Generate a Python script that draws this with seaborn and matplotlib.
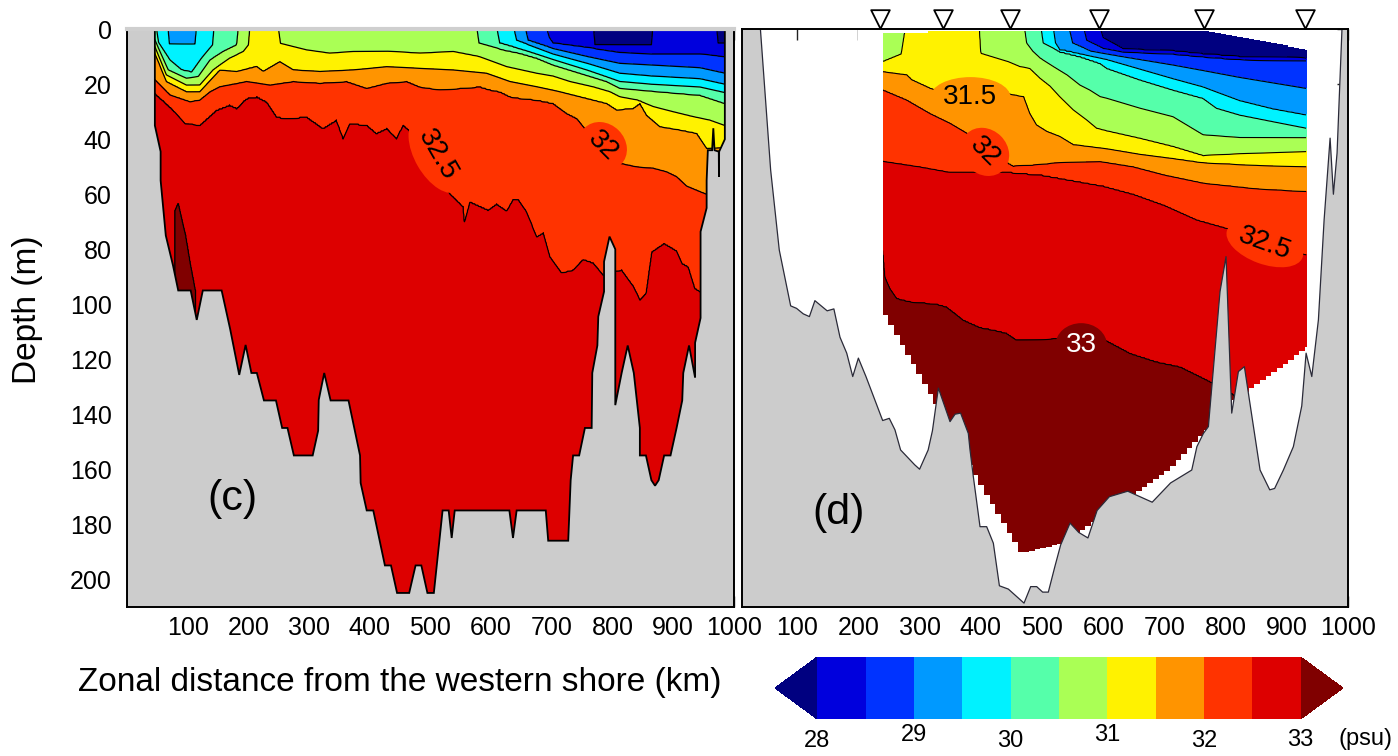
import numpy as np
import matplotlib
matplotlib.use("Agg")
import matplotlib.pyplot as plt
from matplotlib import transforms
from matplotlib.colors import ListedColormap, BoundaryNorm
import seaborn as sns

sns.set_theme(style="ticks")
plt.rcParams["font.family"] = ["Liberation Sans", "DejaVu Sans"]
plt.rcParams["text.color"] = "black"
plt.rcParams["xtick.color"] = "black"
plt.rcParams["ytick.color"] = "black"
plt.rcParams["axes.labelcolor"] = "black"

# salinity levels (psu) and the colours of the bands between them
levels = [28.0, 28.5, 29.0, 29.5, 30.0, 30.5, 31.0, 31.5, 32.0, 32.5, 33.0]
band_colors = ["#0000dd", "#0033ff", "#0099ff", "#00f2ff", "#55ffaa",
               "#aaff55", "#fff200", "#ff9400", "#ff3300", "#dd0000"]
under_color = "#000080"
over_color = "#800000"
cbar_ticks = [28, 29, 30, 31, 32, 33]
x_ticks = [100, 200, 300, 400, 500, 600, 700, 800, 900, 1000]
y_ticks = [0, 20, 40, 60, 80, 100, 120, 140, 160, 180, 200]

# ---- panel (c): isohaline depths, (km, m); 0 = above the surface, 999 = below the bottom
c28 = [(769, 0), (771, 5.7), (864, 5.7), (866, 0), (972, 0), (974, 5), (985, 5)]
c28_5 = [(692, 0), (696, 3), (702, 5), (771, 7), (812, 8.4), (864, 9), (944, 9), (985, 10)]
c29 = [(657, 0), (661, 4), (702, 7), (760, 10), (812, 12.4), (864, 13), (944, 14), (985, 16)]
c29_5 = [(68, 0), (70, 5.3), (112, 5.3), (114, 0), (638, 0), (642, 4), (702, 9), (760, 12.5),
         (812, 16), (864, 17), (944, 18), (985, 20)]
c30 = [(49, 0), (52, 4.8), (71, 11.2), (90, 14.8), (106.6, 15.6), (123, 10.5), (141, 5.7), (143, 0),
       (610, 0), (614, 5), (660, 8), (702, 11), (760, 15), (812, 19), (864, 20), (944, 21), (985, 23)]
c30_5 = [(46, 3.9), (68, 14.8), (98, 17.8), (117.5, 17.2), (136.7, 11.2), (158.6, 8.1), (180.7, 5.7),
         (183, 0), (577, 0), (580, 5), (620, 7.5), (647, 8.7), (675, 10.5), (702, 13), (746, 16),
         (790, 19), (812, 21.5), (864, 22.5), (944, 24), (985, 27)]
c31 = [(46, 6.3), (65, 16.6), (98, 20.3), (120, 20.3), (142, 14.8), (169, 10.5), (191.6, 8.1),
       (200, 5.7), (202, 0), (250, 0), (253, 5.1), (296, 7.5), (334, 8.7), (373, 8.1), (430, 8),
       (482.7, 8.7), (537.6, 8.1), (581.5, 10), (625.6, 13.6), (675, 16), (702, 17), (730, 19),
       (768, 20.9), (796, 22.7), (812, 24.5), (839.7, 25.7), (867, 28.1), (900, 30), (933, 31.8),
       (960, 33), (985, 35)]
c31_5 = [(46, 8.7), (65, 19), (98, 22.7), (120, 22.7), (153, 14.8), (180.7, 15.4), (213.7, 13.6),
         (224.6, 15.4), (252, 11.8), (274, 14.8), (318, 15.4), (372.8, 14.8), (427.8, 13.6),
         (482.7, 14.2), (537.6, 14.8), (592.6, 16), (631, 19), (675, 20.9), (713, 22.7),
         (757, 25.1), (790, 26.9), (806.8, 29.3), (834, 28.7), (845, 26.9), (856, 31.2),
         (878, 35.4), (911, 36.6), (938.4, 37.8), (955, 43.3), (985, 43)]
c32 = [(46, 18.4), (71, 23.9), (104, 26.3), (120, 25.7), (137, 22.7), (153, 20.9), (197, 19),
       (235.6, 20.3), (274, 19), (318, 19.6), (362, 19), (395, 21.5), (428, 19.6), (461, 19),
       (482.7, 21), (515.6, 22), (548.6, 21.5), (581.5, 20.9), (598, 22), (614.5, 22.7),
       (631, 24.5), (647.4, 25.1), (675, 25.7), (702, 26.9), (724, 30.5), (741, 32.4),
       (752, 35.4), (782, 43.3), (812, 48.7), (839.7, 50), (867, 50.5), (889, 51.8),
       (905.6, 53.6), (922, 57), (955, 60), (985, 60)]
c32_5 = [(46, 23.3), (60, 26), (76, 29.3), (95.6, 34.2), (120, 34.8), (148, 29.3), (169, 27.5),
         (181, 28.7), (197, 25.1), (214, 24.5), (230, 26.3), (246.6, 31.8), (263, 32.4),
         (296, 31.8), (323, 36), (345, 33), (356, 39.6), (367, 34.2), (395, 34.8), (411, 37.8),
         (428, 36), (444, 39.6), (455, 34.8), (474, 38.4), (500, 48), (532, 59.7), (554, 64.5),
         (556, 70), (565, 62.7), (595, 65.7), (609, 63.5), (625.6, 66), (636.5, 61.7), (645, 62),
         (658.5, 66.3), (675, 75.4), (686, 74), (697, 82.7), (716, 88.5), (735, 87.5),
         (751.6, 83.6), (768, 84.9), (784.7, 89.3), (800, 88), (815, 87.5), (835, 93.6),
         (845, 98.4), (855, 96), (864.4, 80.9), (885, 77.8), (905.6, 80.5), (914.8, 85.1),
         (924.7, 86.3), (935.7, 94.2), (945, 95.4), (955, 80), (985, 80)]
c33 = [(40, 999), (77, 999), (79, 66), (84.5, 63), (97, 75), (104.5, 85), (113, 95), (118, 999),
       (1000, 999)]

# panel (c): sea floor, (km, m)
c_bottom = [(46, 0), (46, 35), (55.5, 44.5), (55.5, 55), (64, 75), (76, 86), (84.5, 95), (105, 95),
            (115, 105.7), (125, 95), (156, 95), (170, 109), (185, 125.7), (195.5, 114.8),
            (205, 125), (214, 125), (225.7, 135), (245.5, 135), (255.7, 145), (264.5, 145),
            (275, 155), (306, 155), (315, 146), (316, 134.8), (325, 125), (335.5, 135), (365, 135),
            (384, 155), (385, 165), (395, 175), (405.8, 175), (425, 195), (435, 195), (445, 205),
            (465, 205), (475.5, 195), (485, 195), (495, 205), (505.6, 205), (520, 175), (530, 175),
            (535, 185), (540, 175), (630, 175), (636, 185), (642, 175), (690, 175), (694, 186),
            (727, 186), (731, 164), (735, 155), (745, 155), (754.5, 145), (765.6, 145),
            (766.6, 125), (775, 115), (776.5, 104.5), (786, 95.4), (786, 84.5), (795, 75.4),
            (804.5, 80), (804.5, 136.7), (815, 125), (825, 115), (835, 125), (845, 145),
            (845, 155), (855, 155), (864, 164), (870, 166), (876, 164), (885, 155), (895.5, 155),
            (905.5, 145), (914.8, 135), (916.5, 125), (926, 115), (936, 126.7), (936, 114),
            (945, 105), (945, 73.6), (955, 65), (955, 55), (957, 44), (964, 44), (966, 36),
            (968, 44), (975, 44.5), (975.3, 53.6), (975.6, 44.5), (985, 40), (985, 0)]

# ---- panel (d): isohaline depths, (km, m)
d28 = [(596, 0), (600, 3), (633, 7.2), (714, 7.9), (763, 9), (823, 10), (931, 10.5)]
d28_5 = [(569, 0), (573, 4), (600, 7), (633, 8.3), (714, 9), (763, 10), (823, 11), (931, 11.5)]
d29 = [(545, 0), (550, 5), (580, 8), (633, 10), (714, 13), (763, 15), (823, 17.5), (877, 19.5),
       (931, 21.5)]
d29_5 = [(519, 0), (522, 5), (529, 7.5), (562, 9), (606, 11), (660, 14.5), (714, 18), (763, 21),
         (823, 26), (877, 29), (931, 31.2)]
d30 = [(499, 0), (502, 5), (529, 8.1), (562, 9.9), (595, 12.4), (606, 14.2), (660, 18.4),
       (714, 22.1), (763, 25.1), (785, 28.7), (823, 31.2), (877, 33.6), (931, 36)]
d30_5 = [(472, 0), (475, 5), (485, 8), (497, 10.5), (519, 13.6), (541, 16.6), (562, 20.3),
         (578, 22.1), (595, 24.5), (606, 25.1), (660, 28.7), (714, 31.8), (763, 38.4), (823, 39.4),
         (931, 39.4)]
d31 = [(240, 11.8), (270, 9), (276, 0), (398, 0), (400, 8.7), (426, 10.5), (445, 11.8), (464, 13.6),
       (480, 14.2), (497, 17.8), (513, 20.6), (529, 24.5), (551, 29.3), (573, 33), (589, 36),
       (606, 37), (660, 39.7), (714, 42.7), (763, 46), (823, 45.3), (877, 44.9), (931, 44.5)]
d31_5 = [(240, 15.4), (279, 16.6), (287, 18.4), (317, 21.5), (339, 23.3), (372, 23.5), (404, 23.3),
         (442, 23.3), (470, 24.5), (480, 30.6), (491, 34.8), (508, 37.2), (529, 39), (551, 42),
         (606, 43.5), (660, 45.5), (714, 47), (763, 48.5), (850, 49.5), (931, 50)]
d32 = [(240, 22), (279, 25.7), (317, 30.6), (350, 34.2), (377, 37.8), (407, 44), (453, 50),
       (497, 49.3), (529, 48.5), (595, 48.1), (649, 50), (700, 53), (765, 56), (850, 58), (931, 59)]
d32_5 = [(240, 48), (300, 50), (350, 52), (400, 52), (450, 52), (500, 53), (550, 55), (600, 57),
         (650, 60), (700, 64), (753, 69.3), (812, 73), (864, 77), (931, 82)]
d33 = [(240, 80.3), (243.5, 90), (251.6, 94.2), (262.6, 97.8), (284, 99), (328, 99.9), (344, 100.9),
       (371.5, 105.7), (398.7, 108.4), (426, 109.6), (442, 110.5), (458.7, 113), (497, 112.7),
       (529, 112.4), (595, 112), (644, 117.8), (687, 120.9), (725.5, 122.7), (753, 125.7),
       (780, 128.7), (810, 132.4), (850, 140), (931, 150)]

# panel (d): edges of the gridded section and the sea floor, (km, m)
d_top = [(239.7, 1.5), (305, 1.5), (306, 0.5), (763, 0.5), (931.4, 7.5)]
d_deepest = [(239.7, 104), (322, 136), (388, 162.7), (462, 190.6), (529, 187), (704, 160),
             (810, 135), (931.4, 115.4)]
d_bottom = [(40, 0), (56.7, 51.2), (70.8, 80.3), (89.4, 100.6), (99, 101.5), (110, 103.5),
            (120, 104.5), (129, 98.7), (149, 102.4), (160, 101.7), (170, 112), (181, 117.8),
            (190.8, 126.3), (200, 119.6), (212.4, 126.3), (239.7, 142.3), (250.5, 141.5),
            (259.8, 145.7), (269, 153), (292, 158.4), (300, 160), (314, 153), (321, 146),
            (330.7, 130.5), (349.7, 142.7), (358, 140), (367, 139.6), (379.6, 147), (382.4, 153),
            (387.8, 162.7), (398.7, 180.9), (409.6, 180.9), (420.5, 186.9), (430.4, 202.4),
            (445, 203.6), (470.6, 208.7), (481.5, 202.7), (491.3, 202.7), (501, 204.7),
            (510.3, 204.7), (521, 195.4), (530.5, 187.5), (545.8, 179.6), (560, 183), (575, 185),
            (590, 175), (610, 170), (640, 168), (680, 172), (710, 165), (744.6, 160.3),
            (753, 151.8), (763.6, 147), (771.8, 144.5), (790.8, 95.4), (800.6, 82.7),
            (809.9, 139.6), (820.8, 124.5), (830.6, 122.7), (838.8, 134.8), (856.2, 160.3),
            (872, 167.5), (880, 167), (894.3, 160.3), (910.6, 151.8), (924.3, 137), (931.4, 117.8),
            (940.7, 126.3), (951.5, 105.7), (960.8, 69.4), (970.6, 39.6), (976, 60), (982, 45),
            (990, 0)]
stations_km = [235, 338, 448, 593, 765, 930]

c_lines = [c28, c28_5, c29, c29_5, c30, c30_5, c31, c31_5, c32, c32_5, c33]
d_lines = [d28, d28_5, d29, d29_5, d30, d30_5, d31, d31_5, d32, d32_5, d33]


def xs(pts):
    return [p[0] for p in pts]


def zs(pts):
    return [p[1] for p in pts]


def salinity_grid(lines, xg, zg):
    # table for contourf: each column gets a profile through its isohaline depths
    D = np.array([np.interp(xg, xs(l), zs(l)) for l in lines])
    D = np.maximum.accumulate(D, axis=0)
    S = np.empty((len(zg), len(xg)))
    for j in range(len(xg)):
        d = D[:, j]
        up = np.nonzero(d <= 0)[0]
        if len(up):
            pz, ps = [-1.0], [levels[up[-1]]]
            k0 = up[-1] + 1
        else:
            pz, ps = [-1.0], [levels[0] - 0.5]
            k0 = 0
        for k in range(k0, len(levels)):
            if d[k] > 500:
                break
            pz.append(max(d[k], pz[-1] + 0.01))
            ps.append(levels[k])
        pz.append(600.0)
        ps.append(ps[-1] + 0.5)
        S[:, j] = np.interp(zg, pz, ps)
    return S


cmap = ListedColormap(band_colors)
cmap.set_under(under_color)
cmap.set_over(over_color)
norm = BoundaryNorm(levels, cmap.N)

zg = np.arange(0, 210.5, 0.5)
xg_c = np.arange(40, 1001, 1.0)
xg_d = np.linspace(239.7, 931.4, 692)
S_c = salinity_grid(c_lines, xg_c, zg)
S_d = salinity_grid(d_lines, xg_d, zg)

fig = plt.figure(figsize=(13.98, 7.56), dpi=100)
ax_c = fig.add_axes([0.0908, 0.1975, 0.4342, 0.7638])
ax_d = fig.add_axes([0.5308, 0.1975, 0.4335, 0.7638])

# ---- (c)
cf = ax_c.contourf(xg_c, zg, S_c, levels=levels, cmap=cmap, norm=norm, extend="both", zorder=1)
ax_c.contour(xg_c, zg, S_c, levels=levels, colors="black", linewidths=0.9, zorder=2)
bx = [0] + xs(c_bottom) + [1000, 1000, 0]
bz = [0] + zs(c_bottom) + [0, 215, 215]
ax_c.fill(bx, bz, facecolor="#cccccc", edgecolor="black", linewidth=1.3, zorder=4)

# ---- (d)
ax_d.contourf(xg_d, zg, S_d, levels=levels, cmap=cmap, norm=norm, extend="both", zorder=1)
ax_d.contour(xg_d, zg, S_d, levels=levels, colors="black", linewidths=0.8, zorder=2)
step_x = np.arange(239.7, 940, 9.2)
ax_d.fill_between(step_x, np.interp(step_x, xs(d_top), zs(d_top)), -3, step="post",
                  color="white", linewidth=0, zorder=3)
ax_d.fill_between(step_x, np.interp(step_x, xs(d_deepest), zs(d_deepest)), 215, step="post",
                  color="white", linewidth=0, zorder=3)
ax_d.fill_between([200, 239.9], [0, 0], [215, 215], color="white", linewidth=0, zorder=3)
gx = [0] + xs(d_bottom) + [1010, 1010, 0]
gz = [0] + zs(d_bottom) + [0, 215, 215]
ax_d.fill(gx, gz, facecolor="#cccccc", edgecolor="none", zorder=4)
sns.lineplot(x=xs(d_bottom), y=zs(d_bottom), sort=False, estimator=None, color="#2a2a38",
             linewidth=0.9, ax=ax_d, zorder=5)
sns.scatterplot(x=stations_km, y=[-3.9] * len(stations_km), marker="v", s=180, color="white",
                edgecolor="black", linewidth=1.3, clip_on=False, ax=ax_d, zorder=10, legend=False)

# contour labels
lab = dict(fontsize=20, ha="center", va="center", zorder=6)
ax_c.text(511, 45.7, "32.5", rotation=-60,
          bbox=dict(boxstyle="ellipse,pad=0.1", fc="#ff3300", ec="none"), **lab)
ax_c.text(784, 42.5, "32", rotation=-45,
          bbox=dict(boxstyle="ellipse,pad=0.1", fc="#ff3300", ec="none"), **lab)
ax_d.text(383, 24.8, "31.5", bbox=dict(boxstyle="ellipse,pad=0.05", fc="#ff9400", ec="none"), **lab)
ax_d.text(407, 44.6, "32", rotation=-45,
          bbox=dict(boxstyle="ellipse,pad=0.1", fc="#ff3300", ec="none"), **lab)
ax_d.text(864, 78, "32.5", rotation=-20,
          bbox=dict(boxstyle="ellipse,pad=0.05", fc="#ff3300", ec="none"), **lab)
ax_d.text(564, 115, "33", color="white",
          bbox=dict(boxstyle="ellipse,pad=0.1", fc=over_color, ec="none"), **lab)

ax_c.text(173, 171, "(c)", fontsize=31, ha="center", va="center", zorder=6)
ax_d.text(168, 176, "(d)", fontsize=31, ha="center", va="center", zorder=6)

for ax, x0 in [(ax_c, 0), (ax_d, 10)]:
    ax.set_xlim(x0, 1000)
    ax.set_ylim(210, 0)
    ax.set_xticks(x_ticks)
    ax.set_yticks(y_ticks)
    ax.set_xlabel("")
    ax.set_ylabel("")
    ax.tick_params(direction="in", length=8, width=1, top=True, right=True, labelsize=18,
                   color="#222222")
    ax.tick_params(axis="x", pad=7)
    ax.tick_params(axis="y", pad=11)
    for sp in ax.spines.values():
        sp.set_color("black")
        sp.set_linewidth(1.4)
        sp.set_zorder(8)
ax_d.tick_params(labelleft=False)
ax_c.spines["top"].set_color("#cfcfcf")
ax_c.spines["top"].set_linewidth(3)

fig.text(400 / 1398, 1 - 683 / 756, "Zonal distance from the western shore (km)",
         fontsize=24, ha="center", va="center")
fig.text(28 / 1398, 1 - 310 / 756, "Depth (m)", fontsize=24, rotation=90,
         ha="center", va="center")

# colour bar
cax = fig.add_axes([775 / 1398, 1 - 719 / 756, 568 / 1398, 62 / 756])
cb = fig.colorbar(cf, cax=cax, orientation="horizontal", extendfrac=0.0875)
cb.outline.set_visible(False)
cb.set_ticks([])
cax.minorticks_off()
cax.tick_params(which="both", length=0, labelbottom=False)
tr = transforms.blended_transform_factory(cax.transData, fig.transFigure)
for v, py in zip(cbar_ticks, [741, 735, 741, 735, 741, 740]):
    cax.text(v, 1 - py / 756, str(v), transform=tr, fontsize=17, ha="center", va="center")
fig.text(1365 / 1398, 1 - 739 / 756, "(psu)", fontsize=17, ha="center", va="center")

fig.savefig("out.png", dpi=100)
